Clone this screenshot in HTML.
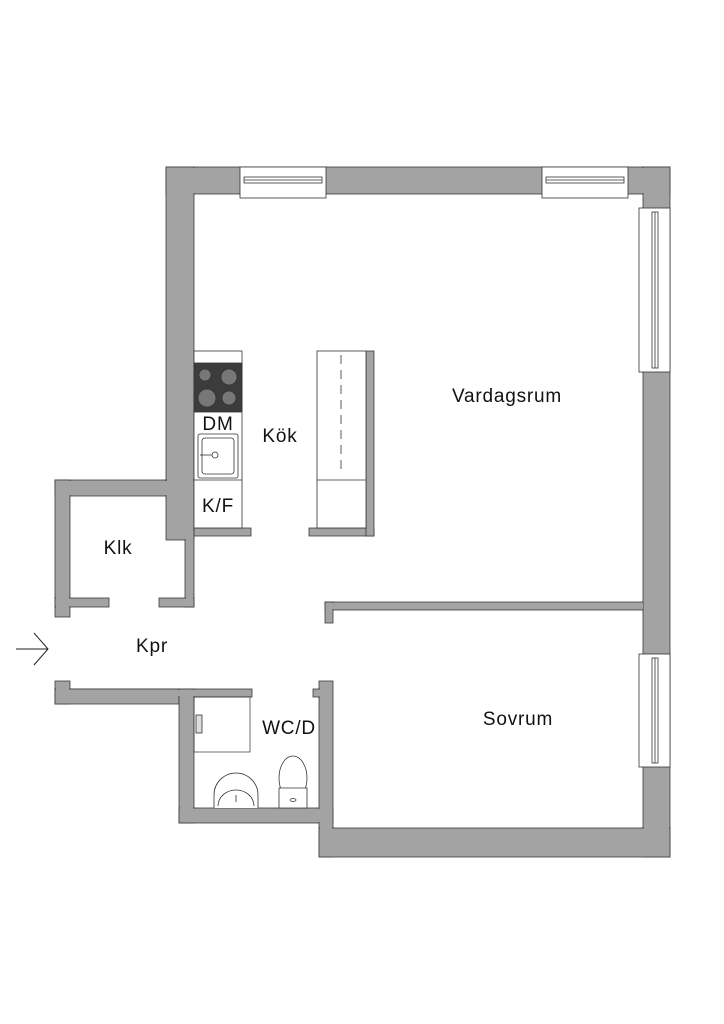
<!DOCTYPE html>
<html><head><meta charset="utf-8"><style>
body{margin:0;background:#fff;}
svg{display:block;}
text{font-family:"Liberation Sans",sans-serif;fill:#111;}
</style></head><body>
<svg width="724" height="1024" viewBox="0 0 724 1024" xmlns="http://www.w3.org/2000/svg">
<g fill="#a3a3a3" stroke="#3a3a3a" stroke-width="0.8">
<rect x="166" y="167" width="504" height="27"/>
<rect x="166" y="167" width="28" height="330"/>
<rect x="643" y="167" width="27" height="690"/>
<rect x="55" y="480" width="139" height="16"/>
<rect x="55" y="480" width="15" height="137"/>
<rect x="55" y="598" width="54" height="9"/>
<rect x="166" y="480" width="28" height="60"/>
<rect x="185" y="530" width="9" height="77"/>
<rect x="159" y="598" width="35" height="9"/>
<rect x="194" y="528" width="57" height="8"/>
<rect x="309" y="528" width="65" height="8"/>
<rect x="366" y="351" width="8" height="185"/>
<rect x="55" y="681" width="15" height="23"/>
<rect x="55" y="689" width="197" height="8"/>
<rect x="55" y="689" width="124" height="15"/>
<rect x="179" y="689" width="15" height="134"/>
<rect x="179" y="808" width="154" height="15"/>
<rect x="319" y="681" width="14" height="176"/>
<rect x="313" y="689" width="8" height="8"/>
<rect x="319" y="828" width="351" height="29"/>
<rect x="325" y="602" width="318" height="8"/>
<rect x="325" y="602" width="8" height="21"/>
</g>
<g fill="#a3a3a3">
<rect x="167" y="168" width="26" height="328"/>
<rect x="167" y="168" width="502" height="25"/>
<rect x="644" y="168" width="25" height="688"/>
<rect x="56" y="481" width="137" height="14"/>
<rect x="56" y="481" width="13" height="135"/>
<rect x="56" y="599" width="52" height="7"/>
<rect x="167" y="481" width="26" height="58"/>
<rect x="186" y="531" width="7" height="75"/>
<rect x="160" y="599" width="33" height="7"/>
<rect x="56" y="682" width="13" height="21"/>
<rect x="56" y="690" width="195" height="6"/>
<rect x="56" y="690" width="122" height="13"/>
<rect x="180" y="690" width="13" height="132"/>
<rect x="180" y="809" width="152" height="13"/>
<rect x="320" y="682" width="12" height="174"/>
<rect x="314" y="690" width="6" height="6"/>
<rect x="320" y="829" width="349" height="27"/>
<rect x="326" y="603" width="317" height="6"/>
<rect x="326" y="603" width="6" height="19"/>
</g>
<g fill="#fff" stroke="#333" stroke-width="0.8">
<rect x="240" y="167" width="86" height="31"/>
<rect x="244" y="177" width="78" height="6"/>
<line x1="244" y1="180" x2="322" y2="180"/>
<rect x="542" y="167" width="86" height="31"/>
<rect x="546" y="177" width="78" height="6"/>
<line x1="546" y1="180" x2="624" y2="180"/>
<rect x="639" y="208" width="31" height="164"/>
<rect x="652" y="212" width="6" height="156"/>
<line x1="655" y1="212" x2="655" y2="368"/>
<rect x="639" y="654" width="31" height="113"/>
<rect x="652" y="658" width="6" height="105"/>
<line x1="655" y1="658" x2="655" y2="763"/>
</g>
<g stroke="#333" stroke-width="0.8" fill="#fff">
<rect x="194" y="351" width="48" height="177"/>
<rect x="194" y="363" width="48" height="49" fill="#3c3c3c"/>
<circle cx="205" cy="375" r="6" fill="#777"/><circle cx="229" cy="377" r="8" fill="#777"/>
<circle cx="207" cy="398" r="9" fill="#777"/><circle cx="229" cy="398" r="7" fill="#777"/>
<rect x="198" y="434" width="40" height="44" rx="2"/>
<rect x="202" y="438" width="32" height="36" rx="3"/>
<circle cx="215" cy="455" r="3"/>
<line x1="200" y1="455" x2="212" y2="455"/>
<line x1="194" y1="480" x2="242" y2="480"/>
<rect x="317" y="351" width="49" height="177"/>
<line x1="317" y1="480" x2="366" y2="480"/>
<line x1="341" y1="355" x2="341" y2="472" stroke-dasharray="9,6"/>
<rect x="194" y="697" width="56" height="55" fill="none" stroke-width="0.7"/>
<path d="M214 808 V795 A22 22 0 0 1 258 795 V808" fill="#fff"/>
<path d="M218 806 A18 16 0 0 1 254 806" fill="none"/>
<line x1="236" y1="795" x2="236" y2="802"/>
<ellipse cx="293" cy="778" rx="14" ry="22" fill="#fff"/>
<path d="M279 788 H307 V808 H279 Z" fill="#fff"/>
<ellipse cx="293" cy="800" rx="3" ry="1.5"/>
<rect x="196" y="715" width="6" height="18" fill="#ddd"/>
</g>
<g stroke="#222" stroke-width="1" fill="none">
<line x1="16" y1="649" x2="48" y2="649"/>
<polyline points="34,633 48,649 34,665"/>
</g>
<g font-size="19" letter-spacing="0.8" text-anchor="middle">
<text x="507" y="402">Vardagsrum</text>
<text x="518" y="725">Sovrum</text>
<text x="280" y="442">Kök</text>
<text x="118" y="554">Klk</text>
<text x="152" y="652">Kpr</text>
<text x="289" y="734">WC/D</text>
<text x="218" y="430">DM</text>
<text x="218" y="512">K/F</text>
</g>
</svg>
</body></html>
